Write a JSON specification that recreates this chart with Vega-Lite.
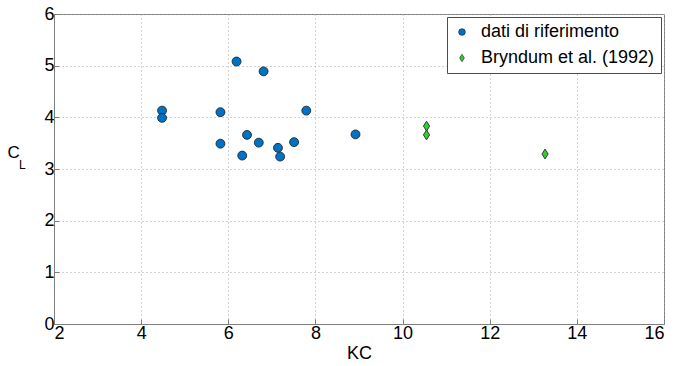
{
  "$schema": "https://vega.github.io/schema/vega-lite/v6.json",
  "width": 610,
  "height": 310,
  "autosize": "none",
  "padding": {"left": 54, "top": 14, "right": 11, "bottom": 42},
  "background": "white",
  "title": {"text": "L", "orient": "left", "angle": 0, "fontSize": 12, "fontWeight": "normal", "font": "Liberation Sans", "color": "#000000", "anchor": "middle", "offset": 0, "dx": 22, "dy": -9},
  "config": {
    "font": "Liberation Sans",
    "view": {"stroke": "#7f7f7f", "strokeWidth": 1},
    "axis": {
      "labelFont": "Liberation Sans",
      "titleFont": "Liberation Sans",
      "labelFontSize": 18,
      "titleFontSize": 18,
      "labelColor": "#000000",
      "titleColor": "#000000",
      "titleFontWeight": "normal",
      "domainColor": "#7f7f7f",
      "tickColor": "#7f7f7f",
      "gridColor": "#a6a6a6",
      "gridDash": [1, 3],
      "gridWidth": 1,
      "tickSize": -5
    },
    "legend": {
      "orient": "top-right",
      "offset": 3,
      "fillColor": "white",
      "strokeColor": "#4d4d4d",
      "padding": 6,
      "labelFont": "Liberation Sans",
      "labelFontSize": 18,
      "labelColor": "#000000",
      "labelLimit": 400,
      "rowPadding": 8,
      "symbolStrokeWidth": 0.6,
      "symbolSize": 45,
      "labelOffset": 10
    }
  },
  "data": {
    "values": [
      {"KC": 4.48, "CL": 4.13, "serie": "dati di riferimento"},
      {"KC": 4.48, "CL": 3.99, "serie": "dati di riferimento"},
      {"KC": 5.82, "CL": 4.10, "serie": "dati di riferimento"},
      {"KC": 5.82, "CL": 3.49, "serie": "dati di riferimento"},
      {"KC": 6.19, "CL": 5.08, "serie": "dati di riferimento"},
      {"KC": 6.32, "CL": 3.26, "serie": "dati di riferimento"},
      {"KC": 6.43, "CL": 3.66, "serie": "dati di riferimento"},
      {"KC": 6.70, "CL": 3.51, "serie": "dati di riferimento"},
      {"KC": 6.81, "CL": 4.89, "serie": "dati di riferimento"},
      {"KC": 7.14, "CL": 3.41, "serie": "dati di riferimento"},
      {"KC": 7.19, "CL": 3.24, "serie": "dati di riferimento"},
      {"KC": 7.51, "CL": 3.52, "serie": "dati di riferimento"},
      {"KC": 7.79, "CL": 4.13, "serie": "dati di riferimento"},
      {"KC": 8.92, "CL": 3.67, "serie": "dati di riferimento"},
      {"KC": 10.55, "CL": 3.83, "serie": "Bryndum et al. (1992)"},
      {"KC": 10.55, "CL": 3.66, "serie": "Bryndum et al. (1992)"},
      {"KC": 13.27, "CL": 3.29, "serie": "Bryndum et al. (1992)"}
    ]
  },
  "mark": {"type": "point", "filled": true, "stroke": "#1a1a1a", "strokeWidth": 0.8, "opacity": 1},
  "encoding": {
    "x": {
      "field": "KC", "type": "quantitative",
      "scale": {"domain": [2, 16], "nice": false, "zero": false},
      "axis": {"values": [2, 4, 6, 8, 10, 12, 14, 16], "title": "KC", "titlePadding": 2, "labelPadding": 5, "grid": true}
    },
    "y": {
      "field": "CL", "type": "quantitative",
      "scale": {"domain": [0, 6], "nice": false},
      "axis": {"values": [0, 1, 2, 3, 4, 5, 6], "title": "C", "titleFontSize": 17, "titleAngle": 0, "titleAlign": "left", "titleBaseline": "middle", "titleX": -47, "titleY": 138, "labelPadding": 5, "grid": true}
    },
    "color": {
      "field": "serie", "type": "nominal",
      "scale": {"domain": ["dati di riferimento", "Bryndum et al. (1992)"], "range": ["#0072c6", "#33cc33"]},
      "legend": {"title": null}
    },
    "shape": {
      "field": "serie", "type": "nominal",
      "scale": {"domain": ["dati di riferimento", "Bryndum et al. (1992)"], "range": ["circle", "M0,-1.1L0.7,0L0,1.1L-0.7,0Z"]},
      "legend": {"title": null}
    },
    "size": {"value": 80}
  }
}
